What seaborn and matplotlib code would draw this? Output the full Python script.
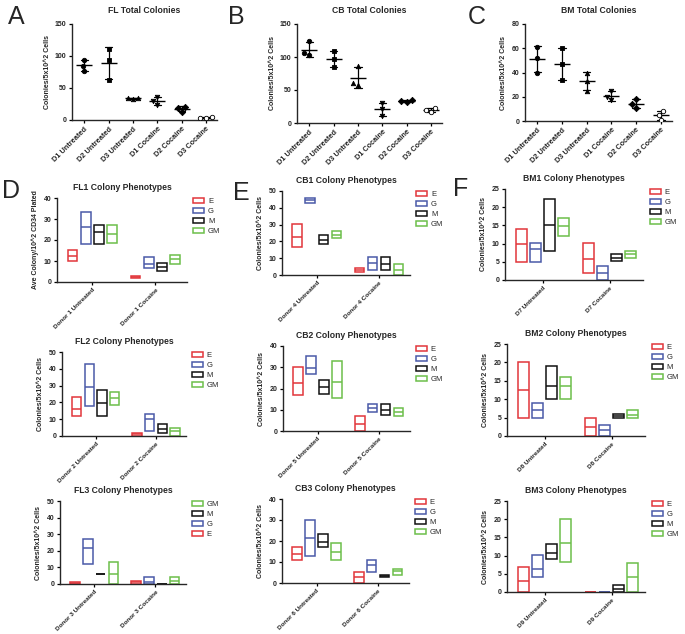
import numpy as np
import pandas as pd
import matplotlib
matplotlib.use("Agg")
import matplotlib.pyplot as plt
from matplotlib.patches import Patch
import seaborn as sns

W, H = 685, 634

# ---------------- Top row: total colonies (3 replicate points per group) ----
total_cats = ["D1 Untreated", "D2 Untreated", "D3 Untreated",
              "D1 Cocaine", "D2 Cocaine", "D3 Cocaine"]
fl_total = [[94, 85, 77], [111, 93, 62], [35, 34, 33], [36, 29, 23], [20, 19, 13], [4, 3, 3]]
cb_total = [[125, 106, 103], [109, 97, 85], [87, 61, 58], [31, 21, 11], [35, 33, 32], [23, 20, 17]]
bm_total = [[61, 52, 40], [60, 47, 34], [40, 33, 25], [25, 20, 17], [18, 14, 11], [8, 5, 1]]
total_markers = ["o", "s", "^", "v", "D", "o"]
total_faces = ["black", "black", "black", "black", "black", "white"]

# ---------------- Phenotype panels: (min, mean, max) per phenotype ---------
phenos = ["E", "G", "M", "GM"]
pheno_colors = {"E": "#e2363b", "G": "#4a5aa8", "M": "#111111", "GM": "#6cbf4a"}

fl1 = [[(9.9, 12.5, 15.2), (18.1, 26.0, 33.3), (18.1, 24.0, 27.2), (18.7, 22.7, 27.2)],
       [(1.9, 2.5, 3.0), (6.9, 8.8, 12.0), (5.3, 7.2, 9.1), (8.8, 10.9, 12.8)]]
cb1 = [[(16.6, 22.5, 30.2), (43.1, 44.7, 46.0), (18.6, 21.1, 23.7), (21.9, 23.9, 25.9)],
       [(2.0, 3.0, 4.2), (3.2, 7.1, 10.7), (3.2, 6.7, 10.7), (0.0, 2.8, 6.7)]]
bm1 = [[(5.0, 9.8, 14.1), (5.0, 8.4, 10.1), (8.1, 15.1, 22.2), (12.1, 14.8, 17.1)],
       [(1.8, 5.7, 10.1), (0.0, 2.0, 3.9), (5.2, 6.1, 7.1), (6.1, 7.1, 8.1)]]
fl2 = [[(11.9, 16.3, 23.2), (17.9, 29.2, 43.1), (11.9, 19.8, 27.2), (18.7, 22.6, 26.2)],
       [(0.0, 1.0, 1.8), (3.0, 9.9, 12.9), (2.0, 4.4, 6.9), (0.0, 2.8, 5.0)]]
cb2 = [[(16.8, 22.7, 30.2), (26.8, 29.6, 35.1), (17.6, 20.7, 23.9), (15.7, 23.1, 32.8)],
       [(0.0, 3.1, 6.9), (8.9, 10.8, 12.9), (7.7, 10.0, 12.9), (6.9, 8.9, 11.0)]]
bm2 = [[(5.0, 12.4, 20.0), (5.0, 7.1, 9.1), (10.0, 13.7, 19.1), (10.0, 13.6, 16.0)],
       [(0.0, 2.4, 5.0), (0.0, 1.6, 3.0), (5.0, 5.5, 6.0), (5.0, 5.7, 7.1)]]
fl3 = [[(0.0, 0.5, 1.0), (12.0, 21.4, 27.0), (6.0, 6.0, 6.0), (0.0, 5.8, 13.0)],
       [(0.0, 1.0, 2.0), (0.0, 1.4, 4.0), (0.0, 0.0, 0.0), (0.0, 1.8, 4.0)]]
cb3 = [[(11.1, 13.9, 17.1), (13.0, 21.3, 30.0), (17.1, 19.4, 23.2), (11.1, 14.9, 19.1)],
       [(0.0, 2.8, 5.1), (5.1, 8.4, 11.1), (2.8, 3.4, 4.0), (4.0, 5.5, 6.8)]]
bm3 = [[(0.0, 3.1, 7.0), (4.1, 6.3, 10.2), (9.0, 10.6, 13.1), (8.2, 13.5, 20.0)],
       [(0.0, 0.0, 0.0), (0.0, 0.0, 0.0), (0.0, 0.9, 2.0), (0.0, 4.0, 8.1)]]

sns.set_theme(style="ticks")
plt.rcParams["font.family"] = ["Liberation Sans", "DejaVu Sans"]
plt.rcParams["axes.linewidth"] = 1.0

fig = plt.figure(figsize=(W / 100, H / 100), dpi=100)


def add_ax(x0, y0, x1, y1):
    return fig.add_axes([x0 / W, 1 - y1 / H, (x1 - x0) / W, (y1 - y0) / H])


def style_ax(ax, ymax, ystep, title, ylabel, pad=6):
    ax.set_ylim(0, ymax)
    ax.set_yticks(np.arange(0, ymax + 0.01, ystep))
    ax.set_yticklabels([f"{int(v)}" for v in np.arange(0, ymax + 0.01, ystep)],
                       fontsize=5, fontweight="bold")
    for s in ["top", "right"]:
        ax.spines[s].set_visible(False)
    ax.spines["left"].set_linewidth(1.0)
    ax.spines["bottom"].set_linewidth(1.0)
    ax.tick_params(axis="both", length=2.5, width=0.9, pad=1.5, color="black")
    ax.set_title(title, fontsize=6.2, fontweight="bold", pad=pad)
    ax.set_ylabel(ylabel, fontsize=5, fontweight="bold", labelpad=3)
    ax.set_xlabel("")


def total_panel(ax, vals, title, ymax, ystep):
    df = pd.DataFrame({"cat": np.repeat(total_cats, 3),
                       "val": np.concatenate(vals).astype(float)})
    sns.pointplot(data=df, x="cat", y="val", order=total_cats, estimator="mean",
                  errorbar="sd", color="black", markers="_", markersize=12,
                  markeredgewidth=1.0, linestyle="none", capsize=0.3,
                  err_kws={"linewidth": 0.9}, ax=ax)
    for cat, m, fc in zip(total_cats, total_markers, total_faces):
        sub = df[df["cat"] == cat]
        sns.swarmplot(data=sub, x="cat", y="val", order=total_cats, marker=m,
                      color=fc, edgecolor="black", linewidth=0.6, size=3.2, ax=ax)
    ax.set_xlim(-0.5, 5.45)
    ax.set_xticks(range(len(total_cats)))
    ax.set_xticklabels(total_cats, rotation=45, ha="right", rotation_mode="anchor",
                       fontsize=5.3, fontweight="bold")
    style_ax(ax, ymax, ystep, title, "Colonies/5x10^2 Cells", pad=8)


def pheno_panel(ax, data, groups, title, ylabel, ymax, ystep, legend_order=phenos):
    offs = (np.arange(len(phenos)) - (len(phenos) - 1) / 2) * 0.21
    bw = 0.155
    for gi, g in enumerate(groups):
        for pi, p in enumerate(phenos):
            lo, mn, hi = data[gi][pi]
            x = gi + offs[pi]
            ax.bar(x, hi - lo, bottom=lo, width=bw, facecolor="none",
                   edgecolor=pheno_colors[p], linewidth=1.1, clip_on=False)
            ax.hlines(mn, x - bw / 2, x + bw / 2, color=pheno_colors[p], linewidth=1.1)
    ax.set_xlim(-0.56, 1.5)
    ax.set_xticks([0, 1])
    ax.set_xticklabels(groups, rotation=45, ha="right", rotation_mode="anchor",
                       fontsize=4.6, fontweight="bold")
    style_ax(ax, ymax, ystep, title, ylabel, pad=6)
    handles = [Patch(facecolor="none", edgecolor=pheno_colors[p], linewidth=1.1, label=p)
               for p in legend_order]
    ax.legend(handles=handles, loc="upper left", bbox_to_anchor=(1.05, 1.0),
              frameon=False, fontsize=5.5, handlelength=1.4, handleheight=0.65,
              handletextpad=0.5, labelspacing=0.35, borderpad=0, borderaxespad=0)


# top row
total_panel(add_ax(72, 24, 217, 120), fl_total, "FL Total Colonies", 150, 50)
total_panel(add_ax(297, 24, 442, 123), cb_total, "CB Total Colonies", 150, 50)
total_panel(add_ax(525, 24, 672, 121), bm_total, "BM Total Colonies", 80, 20)

cells = "Colonies/5x10^2 Cells"
pheno_panel(add_ax(57, 198, 187, 282), fl1, ["Donor 1 Untreated", "Donor 1 Cocaine"],
            "FL1 Colony Phenotypes", "Ave Colony/10^2 CD34 Plated", 40, 10)
pheno_panel(add_ax(282, 191, 410, 275), cb1, ["Donor 4 Untreated", "Donor 4 Cocaine"],
            "CB1 Colony Phenotypes", cells, 50, 10)
pheno_panel(add_ax(505, 189, 643, 280), bm1, ["D7 Untreated", "D7 Cocaine"],
            "BM1 Colony Phenotypes", cells, 25, 5)
pheno_panel(add_ax(62, 352, 186, 436), fl2, ["Donor 2 Untreated", "Donor 2 Cocaine"],
            "FL2 Colony Phenotypes", cells, 50, 10)
pheno_panel(add_ax(283, 346, 410, 431), cb2, ["Donor 5 Untreated", "Donor 5 Cocaine"],
            "CB2 Colony Phenotypes", cells, 40, 10)
pheno_panel(add_ax(507, 344, 645, 436), bm2, ["D8 Untreated", "D8 Cocaine"],
            "BM2 Colony Phenotypes", cells, 25, 5)
pheno_panel(add_ax(60, 501, 186, 584), fl3, ["Donor 3 Untreated", "Donor 3 Cocaine"],
            "FL3 Colony Phenotypes", cells, 50, 10, legend_order=["GM", "M", "G", "E"])
pheno_panel(add_ax(282, 499, 409, 583), cb3, ["Donor 6 Untreated", "Donor 6 Cocaine"],
            "CB3 Colony Phenotypes", cells, 40, 10)
pheno_panel(add_ax(507, 501, 645, 592), bm3, ["D9 Untreated", "D9 Cocaine"],
            "BM3 Colony Phenotypes", cells, 25, 5)

# panel letters
for letter, (px, py) in {"A": (8, 24), "B": (228, 24), "C": (468, 24),
                         "D": (2, 198), "E": (233, 200), "F": (453, 196)}.items():
    fig.text(px / W, 1 - py / H, letter, fontsize=18, va="baseline", ha="left")

fig.savefig("out.png", dpi=100)
